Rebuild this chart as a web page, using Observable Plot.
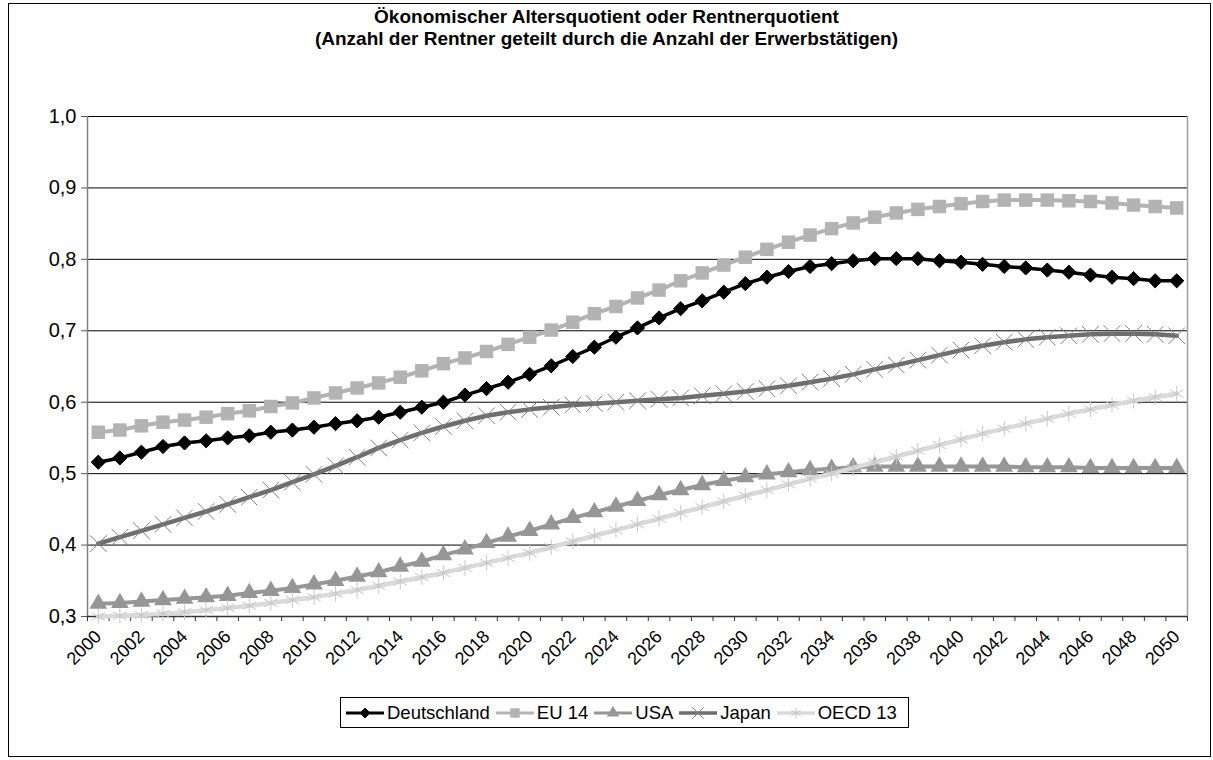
<!DOCTYPE html>
<html><head><meta charset="utf-8">
<script src="https://cdn.jsdelivr.net/npm/d3@7"></script>
<script src="https://cdn.jsdelivr.net/npm/@observablehq/plot@0.6"></script>
<style>
body{margin:0;background:#fff;font-family:"Liberation Sans",Arial,sans-serif;}
#wrap{position:relative;width:1213px;height:760px;overflow:hidden;background:#fff;}
#frame{position:absolute;left:8px;top:3px;width:1203px;height:754px;border:1px solid #000;box-sizing:border-box;pointer-events:none;}
#title{position:absolute;left:0;width:1213px;top:6px;text-align:center;font-weight:bold;font-size:19px;line-height:22px;color:#000;}
#chart{position:absolute;left:0;top:0;}
#legend{position:absolute;left:340px;top:697px;height:31px;border:1px solid #000;box-sizing:border-box;display:flex;align-items:center;padding:0 6px 0 4px;font-size:18.5px;background:#fff;}
.item{display:flex;align-items:center;margin-right:5px;}
.item svg{margin-right:2px;}
</style>
</head><body>
<div id="wrap">
  <div id="chart"></div>
  <div id="title">Ökonomischer Altersquotient oder Rentnerquotient<br>(Anzahl der Rentner geteilt durch die Anzahl der Erwerbstätigen)</div>
  <div id="legend"></div>
  <div id="frame"></div>
</div>
<script>
// ---- Data ----
const years = [2000,2001,2002,2003,2004,2005,2006,2007,2008,2009,
  2010,2011,2012,2013,2014,2015,2016,2017,2018,2019,
  2020,2021,2022,2023,2024,2025,2026,2027,2028,2029,
  2030,2031,2032,2033,2034,2035,2036,2037,2038,2039,
  2040,2041,2042,2043,2044,2045,2046,2047,2048,2049,2050];

const seriesNames = ["Deutschland", "EU 14", "USA", "Japan", "OECD 13"];

const deutschland = [0.516,0.522,0.530,0.538,0.543,0.546,0.550,0.553,0.558,0.561,
  0.565,0.570,0.574,0.579,0.586,0.593,0.600,0.610,0.619,0.628,
  0.639,0.651,0.664,0.677,0.691,0.704,0.718,0.731,0.742,0.754,
  0.766,0.775,0.783,0.790,0.794,0.798,0.801,0.801,0.801,0.798,
  0.796,0.793,0.790,0.788,0.785,0.782,0.778,0.775,0.773,0.770,0.770];

const eu14 = [0.558,0.561,0.567,0.572,0.575,0.579,0.584,0.588,0.594,0.599,
  0.606,0.613,0.620,0.627,0.635,0.644,0.654,0.662,0.671,0.681,
  0.691,0.701,0.712,0.724,0.734,0.746,0.757,0.770,0.781,0.792,
  0.803,0.814,0.824,0.834,0.843,0.851,0.859,0.865,0.870,0.874,
  0.878,0.881,0.883,0.883,0.883,0.882,0.881,0.879,0.876,0.874,0.872];

const usa = [0.318,0.319,0.321,0.323,0.325,0.327,0.329,0.333,0.336,0.340,
  0.345,0.350,0.356,0.362,0.370,0.377,0.386,0.394,0.403,0.412,
  0.420,0.429,0.438,0.446,0.454,0.462,0.470,0.477,0.484,0.490,
  0.495,0.499,0.502,0.505,0.507,0.509,0.510,0.510,0.510,0.510,
  0.510,0.510,0.510,0.509,0.509,0.509,0.508,0.508,0.508,0.508,0.508];

const japan = [0.402,0.411,0.420,0.429,0.438,0.447,0.457,0.467,0.477,0.488,
  0.499,0.511,0.523,0.536,0.547,0.557,0.566,0.574,0.581,0.586,
  0.590,0.593,0.596,0.598,0.600,0.602,0.604,0.606,0.609,0.612,
  0.615,0.619,0.623,0.628,0.633,0.639,0.646,0.652,0.659,0.666,
  0.673,0.679,0.684,0.688,0.691,0.693,0.695,0.696,0.696,0.695,0.693];

const oecd13 = [0.300,0.301,0.302,0.304,0.306,0.309,0.312,0.315,0.319,0.323,
  0.327,0.332,0.337,0.343,0.349,0.355,0.361,0.368,0.375,0.382,
  0.389,0.397,0.405,0.413,0.421,0.429,0.437,0.445,0.453,0.461,
  0.469,0.477,0.485,0.493,0.500,0.508,0.516,0.524,0.532,0.540,
  0.548,0.556,0.563,0.570,0.577,0.584,0.590,0.596,0.602,0.607,0.612];

const xTickLabels = [2000,2002,2004,2006,2008,2010,2012,2014,2016,2018,2020,2022,2024,
  2026,2028,2030,2032,2034,2036,2038,2040,2042,2044,2046,2048,2050];
const yTicks = [0.3,0.4,0.5,0.6,0.7,0.8,0.9,1.0];

// ---- Styles (kept separate from data) ----
const styles = {
  "Deutschland": {line:"#000000", width:3.5, symbol:"diamond2", r:6.4, fill:"#000000", stroke:"#000000", sw:1},
  "EU 14":       {line:"#b3b3b3", width:4, symbol:"square", r:7.6, fill:"#b3b3b3", stroke:"none", sw:0},
  "USA":         {line:"#969696", width:4, symbol:"triangle", r:6.6, fill:"#969696", stroke:"none", sw:0},
  "Japan":       {line:"#6e6e6e", width:4.5, symbol:"times", r:7.6, fill:"none", stroke:"#808080", sw:1},
  "OECD 13":     {line:"#dadada", width:4.5, symbol:"asterisk", r:7.4, fill:"none", stroke:"#c8c8c8", sw:1}
};

const seriesValues = [deutschland, eu14, usa, japan, oecd13];
const rows = [];
seriesNames.forEach((name, k) => seriesValues[k].forEach((v, i) => rows.push({series: name, year: years[i], value: v})));

const boundaries = years.map(y => y - 0.5).concat([years[years.length - 1] + 0.5]);
const fmt = d => d.toFixed(1).replace(".", ",");

const marks = [
  Plot.ruleY(yTicks.filter(d => d > 0.3), {stroke: "#000", strokeWidth: 1}),
  Plot.ruleX([boundaries[0]], {stroke: "#808080", strokeWidth: 1.5}),
  Plot.ruleX([boundaries[boundaries.length - 1]], {stroke: "#a0a0a0", strokeWidth: 1.5}),
  Plot.ruleY([0.3], {stroke: "#333", strokeWidth: 1.5}),
  Plot.axisY({ticks: yTicks, tickSize: 6, tickPadding: 5, tickFormat: fmt, fontSize: 20, label: null, stroke: "#555"}),
  Plot.axisX({ticks: boundaries, tickSize: 5, tickFormat: () => "", label: null, stroke: "#333"}),
  Plot.axisX({ticks: xTickLabels, tickSize: 0, tickPadding: 13, tickRotate: -45, dy: 4, tickFormat: d => String(d), fontSize: 18, label: null})
];
seriesNames.forEach(name => {
  const s = styles[name];
  const data = rows.filter(d => d.series === name);
  marks.push(Plot.line(data, {x: "year", y: "value", stroke: s.line, strokeWidth: s.width, curve: "linear"}));
  marks.push(Plot.dot(data, {x: "year", y: "value", symbol: () => s.symbol, r: s.r, fill: s.fill, stroke: s.stroke, strokeWidth: s.sw}));
});

const chart = Plot.plot({
  width: 1213, height: 760,
  marginLeft: 87, marginRight: 26, marginTop: 116, marginBottom: 144,
  x: {type: "linear", domain: [boundaries[0], boundaries[boundaries.length - 1]]},
  y: {domain: [0.3, 1.0]},
  symbol: {type: "identity"},
  style: {fontFamily: "Liberation Sans, Arial, sans-serif", fontSize: "18px", color: "#000", background: "transparent"},
  marks
});
document.getElementById("chart").appendChild(chart);

// ---- Legend ----
const symMap = {diamond2: d3.symbolDiamond2, square: d3.symbolSquare, triangle: d3.symbolTriangle, times: d3.symbolTimes, asterisk: d3.symbolAsterisk};
const legend = d3.select("#legend");
seriesNames.forEach(name => {
  const s = styles[name];
  const it = legend.append("div").attr("class", "item");
  const svg = it.append("svg").attr("width", 40).attr("height", 20);
  svg.append("line").attr("x1", 1).attr("x2", 39).attr("y1", 10).attr("y2", 10)
    .attr("stroke", s.line).attr("stroke-width", s.width * 0.8);
  svg.append("path").attr("transform", "translate(20,10)")
    .attr("d", d3.symbol(symMap[s.symbol], Math.PI * (s.r * 0.7) ** 2)())
    .attr("fill", s.fill).attr("stroke", s.stroke).attr("stroke-width", s.sw);
  it.append("span").text(name);
});
</script>
</body></html>
